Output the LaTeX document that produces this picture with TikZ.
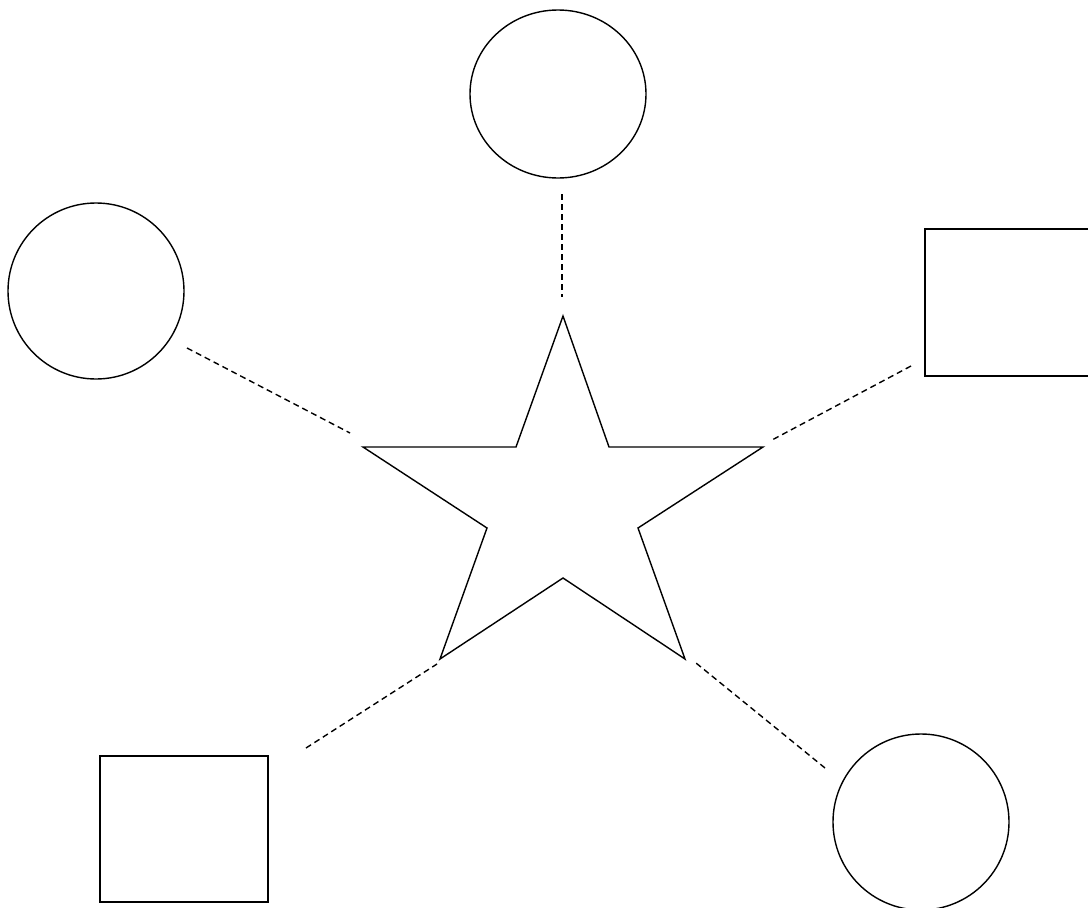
\documentclass[tikz,border=0pt]{standalone}
\begin{document}
\begin{tikzpicture}[x=1pt,y=-1pt,
  shapeline/.style={draw=black,line width=1.4pt},
  link/.style={draw=black,line width=1.4pt,dash pattern=on 6pt off 4pt}]
\useasboundingbox (0,0) rectangle (1088,908);
% shapes
\draw[shapeline] (558,94) ellipse [x radius=88,y radius=84];
\draw[shapeline] (96,291) circle [radius=88];
\draw[shapeline] (921,822) circle [radius=88];
\draw[shapeline] (925,229) rectangle (1095,376);
\draw[shapeline] (100,756) rectangle (268,902);
\draw[shapeline,line join=miter] (563,316) -- (609,447) -- (763,447) -- (638,528) -- (685,659)
  -- (563,578) -- (440,659) -- (487,528) -- (363,447) -- (516,447) -- cycle;
% connector ends
\coordinate (t1) at (562,194); \coordinate (t2) at (562,297);
\coordinate (l1) at (187,348); \coordinate (l2) at (350,433);
\coordinate (r1) at (911,366); \coordinate (r2) at (772,440);
\coordinate (bl1) at (306,748); \coordinate (bl2) at (437,664);
\coordinate (br1) at (825,768); \coordinate (br2) at (696,663);
\draw[link] (t1) -- (t2);
\draw[link] (l1) -- (l2);
\draw[link] (r1) -- (r2);
\draw[link] (bl1) -- (bl2);
\draw[link] (br1) -- (br2);
\end{tikzpicture}
\end{document}
